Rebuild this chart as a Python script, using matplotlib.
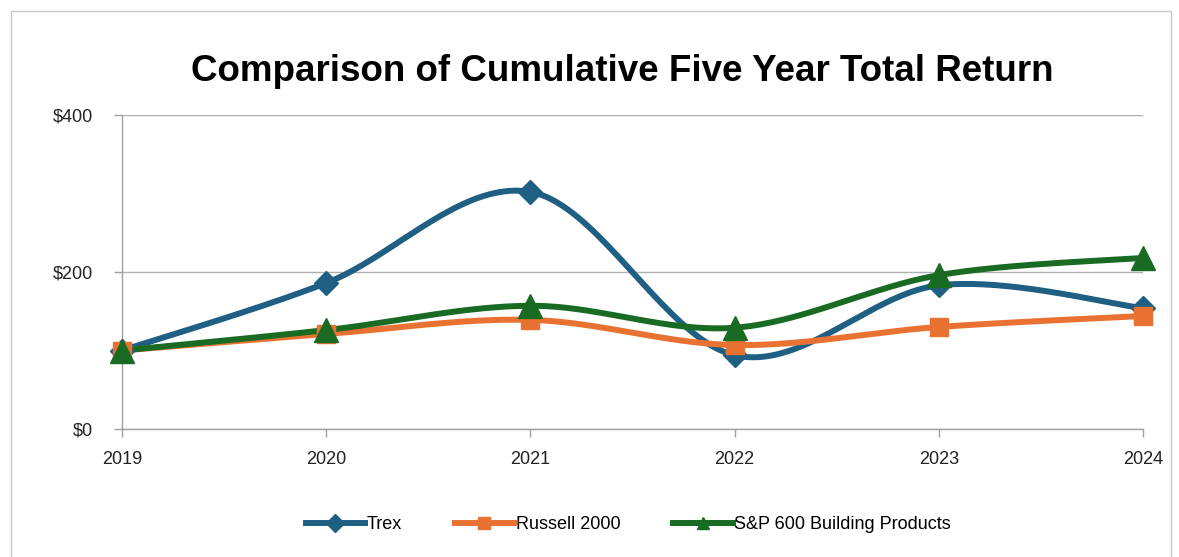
import numpy as np
import matplotlib.pyplot as plt
from matplotlib.patches import Rectangle
from matplotlib.lines import Line2D

years = [2019, 2020, 2021, 2022, 2023, 2024]
trex = [100, 186, 302, 94, 183, 154]
russell = [100, 121, 139, 107, 130, 144]
sp600 = [100, 126, 157, 129, 196, 218]

series = [
    ("Trex", trex, "#1f5f84", "D", 12),
    ("Russell 2000", russell, "#e97132", "s", 13),
    ("S&P 600 Building Products", sp600, "#196b24", "^", 17),
]

FONT = ["Liberation Sans", "DejaVu Sans"]
plt.rcParams["font.family"] = FONT


def smooth(x, y, n=40):
    # Catmull-Rom style curve, like Excel's "smoothed line"
    x = np.asarray(x, float)
    y = np.asarray(y, float)
    px = np.concatenate([[x[0]], x, [x[-1]]])
    py = np.concatenate([[y[0]], y, [y[-1]]])
    xs, ys = [], []
    t = np.linspace(0, 1, n)
    for i in range(1, len(px) - 2):
        p0, p1, p2, p3 = (np.array([px[j], py[j]]) for j in range(i - 1, i + 3))
        c1 = p1 + (p2 - p0) / 6
        c2 = p2 - (p3 - p1) / 6
        pts = ((1 - t) ** 3)[:, None] * p1 + (3 * (1 - t) ** 2 * t)[:, None] * c1 \
            + (3 * (1 - t) * t ** 2)[:, None] * c2 + (t ** 3)[:, None] * p2
        xs.append(pts[:, 0])
        ys.append(pts[:, 1])
    return np.concatenate(xs), np.concatenate(ys)


fig = plt.figure(figsize=(11.79, 5.57), dpi=100)
ax = fig.add_axes([0.1035, 0.2298, 0.866, 0.5637])

for name, vals, color, marker, ms in series:
    sx, sy = smooth(years, vals)
    ax.plot(sx, sy, color=color, lw=4.3, solid_capstyle="round", zorder=3)
    ax.plot(years, vals, linestyle="none", marker=marker, color=color,
            markersize=ms, zorder=4, clip_on=False)

ax.set_xlim(2019, 2024)
ax.set_ylim(0, 400)
ax.set_yticks([0, 200, 400])
ax.set_yticklabels(["$0", "$200", "$400"])
ax.set_xticks(years)
ax.yaxis.grid(True, color="#b0b0b0", lw=1)
ax.set_axisbelow(True)
for side in ["top", "right"]:
    ax.spines[side].set_visible(False)
for side in ["left", "bottom"]:
    ax.spines[side].set_color("#a0a0a0")
    ax.spines[side].set_linewidth(1)
ax.tick_params(axis="both", colors="#a0a0a0", length=6, width=1, labelsize=13,
               labelcolor="#222222")
ax.tick_params(axis="x", pad=10)
ax.tick_params(axis="y", pad=15)

fig.text(0.528, 0.872, "Comparison of Cumulative Five Year Total Return",
         ha="center", va="center", fontsize=26.5, fontweight="bold")

handles = [Line2D([0], [0], color=c, lw=4.3, marker=m, markersize=9)
           for _, _, c, m, _ in series]
fig.legend(handles, [s[0] for s in series], loc="center", ncol=3,
           bbox_to_anchor=(0.533, 0.058), frameon=False, fontsize=13,
           handlelength=3.3, handletextpad=0.1, columnspacing=2.9)

# spreadsheet cell border around the chart
fig.patches.append(Rectangle((0.009, -0.01), 0.984, 0.99, transform=fig.transFigure,
                             fill=False, edgecolor="#c8c8c8", lw=1))

fig.savefig("out.png", dpi=100)
